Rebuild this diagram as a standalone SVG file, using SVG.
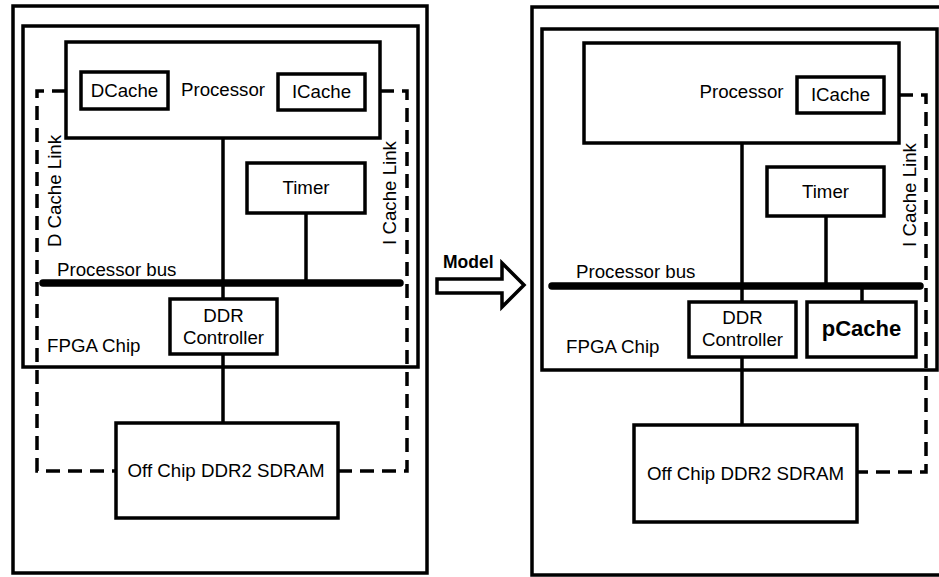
<svg xmlns="http://www.w3.org/2000/svg" width="939" height="577" viewBox="0 0 939 577">
<style>
.box{fill:none;stroke:#000;stroke-width:3.5}
.fillbox{fill:#fff;stroke:#000;stroke-width:3.5}
.line{stroke:#000;stroke-width:3.5;fill:none}
.bus{stroke:#000;stroke-width:7.5;stroke-linecap:round;fill:none}
.dash{stroke:#000;stroke-width:3.5;fill:none;stroke-dasharray:14 8}
.t{font-family:"Liberation Sans",Arial,sans-serif;font-size:18.7px;fill:#000}
.tc{text-anchor:middle}
.b{font-weight:bold}
</style>
<rect width="939" height="577" fill="#fff"/>

<g id="left-panel">
  <rect class="box" x="13" y="6" width="414" height="567"/>
  <g id="left-fpga">
    <rect class="box" x="23" y="26" width="395" height="341"/>
    <text class="t" x="47" y="352">FPGA Chip</text>
  </g>
</g>

<g id="right-panel">
  <rect class="box" x="532" y="7" width="420" height="568"/>
  <g id="right-fpga">
    <rect class="box" x="542" y="29" width="395" height="341"/>
    <text class="t" x="566" y="353">FPGA Chip</text>
  </g>
</g>

<g id="connectors">
  <!-- left -->
  <line class="line" x1="223" y1="138" x2="223" y2="299"/>
  <line class="line" x1="306" y1="213" x2="306" y2="283"/>
  <line class="line" x1="223" y1="354" x2="223" y2="423"/>
  <line class="bus" x1="43" y1="283" x2="400" y2="283"/>
  <polyline class="dash" points="66,91 37,91 37,471 116,471"/>
  <polyline class="dash" points="380,91 407,91 407,471 338,471"/>
  <!-- right -->
  <line class="line" x1="742" y1="143" x2="742" y2="302"/>
  <line class="line" x1="826" y1="216" x2="826" y2="286"/>
  <line class="line" x1="862" y1="286" x2="862" y2="302"/>
  <line class="line" x1="742" y1="357" x2="742" y2="425"/>
  <line class="bus" x1="552" y1="286" x2="920" y2="286"/>
  <polyline class="dash" points="899,95 926,95 926,472 857,472"/>
  <!-- model arrow -->
  <polygon points="437,279 502,279 502,263 524,285 502,307 502,293 437,293" fill="#fff" stroke="#000" stroke-width="3.5" stroke-linejoin="miter"/>
</g>

<g id="labels">
  <text class="t" x="57" y="276">Processor bus</text>
  <text class="t tc" transform="translate(61,191) rotate(-90)">D Cache Link</text>
  <text class="t tc" transform="translate(396,193) rotate(-90)">I Cache Link</text>
  <text class="t" x="576" y="278">Processor bus</text>
  <text class="t tc" transform="translate(916,195) rotate(-90)">I Cache Link</text>
  <text class="t b" x="443" y="268" style="font-size:17.5px">Model</text>
</g>

<!-- Left nodes -->
<g id="l-processor">
  <rect class="fillbox" x="66" y="42" width="314" height="96"/>
  <text class="t tc" x="223" y="96">Processor</text>
</g>
<g id="l-dcache">
  <rect class="box" x="81" y="72" width="87" height="37"/>
  <text class="t tc" x="124.5" y="97">DCache</text>
</g>
<g id="l-icache">
  <rect class="box" x="278" y="74" width="87" height="36"/>
  <text class="t tc" x="321.5" y="98">ICache</text>
</g>
<g id="l-timer">
  <rect class="fillbox" x="247" y="163" width="118" height="50"/>
  <text class="t tc" x="306" y="194">Timer</text>
</g>
<g id="l-ddr">
  <rect class="fillbox" x="170" y="299" width="107" height="55"/>
  <text class="t tc" x="223.5" y="322">DDR</text>
  <text class="t tc" x="223.5" y="344">Controller</text>
</g>
<g id="l-sdram">
  <rect class="fillbox" x="116" y="423" width="222" height="95"/>
  <text class="t tc" x="226" y="477">Off Chip DDR2 SDRAM</text>
</g>

<!-- Right nodes -->
<g id="r-processor">
  <rect class="fillbox" x="584" y="43" width="315" height="100"/>
  <text class="t tc" x="741.5" y="98">Processor</text>
</g>
<g id="r-icache">
  <rect class="box" x="797" y="77" width="87" height="36"/>
  <text class="t tc" x="840.5" y="101">ICache</text>
</g>
<g id="r-timer">
  <rect class="fillbox" x="767" y="167" width="117" height="49"/>
  <text class="t tc" x="825.5" y="198">Timer</text>
</g>
<g id="r-ddr">
  <rect class="fillbox" x="689" y="302" width="107" height="55"/>
  <text class="t tc" x="742.5" y="324">DDR</text>
  <text class="t tc" x="742.5" y="346">Controller</text>
</g>
<g id="r-pcache">
  <rect class="fillbox" x="807" y="302" width="109" height="55"/>
  <text class="t tc b" x="861.5" y="336" style="font-size:22px">pCache</text>
</g>
<g id="r-sdram">
  <rect class="fillbox" x="634" y="425" width="223" height="97"/>
  <text class="t tc" x="745.5" y="480">Off Chip DDR2 SDRAM</text>
</g>
</svg>
